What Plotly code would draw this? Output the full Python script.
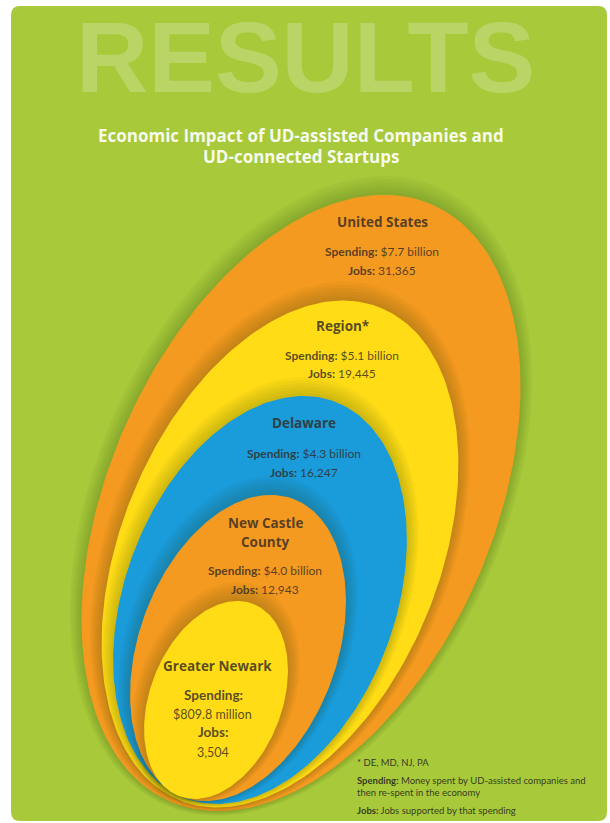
import numpy as np
import plotly.graph_objects as go

W, H = 610, 823

# ---------------- data ----------------
regions = ["United States", "Region*", "Delaware", "New Castle<br>County", "Greater Newark"]
spending_billion = [7.7, 5.1, 4.3, 4.0, 0.8098]
jobs = [31365, 19445, 16247, 12943, 3504]
footnotes = ["* DE, MD, NJ, PA",
             "<b>Spending:</b> Money spent by UD-assisted companies and<br>then re-spent in the economy",
             "<b>Jobs:</b> Jobs supported by that spending"]
title_lines = ["Economic Impact of UD-assisted Companies and", "UD-connected Startups"]
watermark = "RESULTS"

# ---------------- styling / layout ----------------
fills = ["#F49A20", "#FFDC16", "#1A9BDA", "#F49A20", "#FFDC16"]
green = "#A7C93A"
# ellipse geometry in pixel space: centre x, centre y, semi-major, semi-minor, tilt (deg)
geom = [
    (301, 503, 326, 192, 23.8),
    (280, 554, 266, 159, 22.3),
    (260, 600, 212, 135, 20.7),
    (238, 648, 159, 99, 20.2),
    (216, 700, 103, 66, 21.2),
]
# label anchors: centre x, name y, spending y, jobs y
label_pos = [
    (382, 222, 251, 270),
    (342, 326, 355, 373),
    (304, 423, 453, 472),
    (265, 532, 570, 589),
    (217, 666, 695, 732),
]


def ellipse_xy(cx, cy, a, b, phi_deg, grow=0.0, dy=0.0, n=260):
    phi = np.radians(phi_deg)
    t = np.linspace(0, 2 * np.pi, n)
    ux, uy = np.sin(phi), -np.cos(phi)
    vx, vy = np.cos(phi), np.sin(phi)
    A, B = a + grow, b + grow
    x = cx + A * np.cos(t) * ux + B * np.sin(t) * vx
    y = cy + dy + A * np.cos(t) * uy + B * np.sin(t) * vy
    return x, y


fig = go.Figure()

for (cx, cy, a, b, phi), col in zip(geom, fills):
    for g in (12, 10, 8, 6, 4, 2):
        sx, sy = ellipse_xy(cx, cy, a, b, phi, grow=g, dy=-g * 0.6)
        fig.add_trace(go.Scatter(x=sx, y=sy, mode="lines", fill="toself",
                                 fillcolor="rgba(30,45,0,0.035)", line=dict(width=0),
                                 hoverinfo="skip", showlegend=False))
    ex, ey = ellipse_xy(cx, cy, a, b, phi)
    fig.add_trace(go.Scatter(x=ex, y=ey, mode="lines", fill="toself",
                             fillcolor=col, line=dict(width=0),
                             hoverinfo="skip", showlegend=False))

txt_col = "rgba(52,42,36,0.82)"
FONT = "Lato, 'Open Sans', sans-serif"
HEAD = "'Open Sans', Lato, sans-serif"
ann = []


def add(text, x, y, size, color=txt_col, xanchor="center", align="center", family=FONT):
    ann.append(dict(text=text, x=x, y=y, xref="x", yref="y", showarrow=False,
                    xanchor=xanchor, yanchor="middle", align=align,
                    font=dict(family=family, size=size, color=color)))


def fmt_spend(v):
    return f"${v:.1f} billion" if v >= 1 else f"${v * 1000:.1f} million"


for i, (name, sp, jb) in enumerate(zip(regions, spending_billion, jobs)):
    x, yn, ys, yj = label_pos[i]
    if "<br>" in name:
        parts = name.split("<br>")
        add(f"<b>{parts[0]}</b>", x, yn - 9, 13.5, family=HEAD)
        add(f"<b>{parts[1]}</b>", x, yn + 10, 13.5, family=HEAD)
    else:
        add(f"<b>{name}</b>", x, yn, 13.5 if i < 4 else 13.5, family=HEAD)
    if i < 4:
        add(f"<b>Spending:</b> {fmt_spend(sp)}", x, ys, 12)
        add(f"<b>Jobs:</b> {jb:,}", x, yj, 12)
    else:
        add("<b>Spending:</b>", x - 4, ys, 13.5)
        add(fmt_spend(sp), x - 5, ys + 19, 12.5)
        add("<b>Jobs:</b>", x - 4, yj, 13.5)
        add(f"{jb:,}", x - 4, yj + 20, 12.5)

# watermark & title
add(f"<b>{watermark}</b>", 305, 57, 100, color="rgba(255,255,255,0.22)",
    family="'Liberation Sans', Arial, sans-serif")
add(f"<b>{title_lines[0]}</b>", 301, 135, 17, color="rgba(255,255,255,0.93)", family=HEAD)
add(f"<b>{title_lines[1]}</b>", 301, 156, 17, color="rgba(255,255,255,0.93)", family=HEAD)

# footnotes
fcol = "rgba(40,40,30,0.9)"
add(footnotes[0], 355, 762, 9.5, xanchor="left", align="left", color=fcol)
add(footnotes[1], 355, 786, 9.5, xanchor="left", align="left", color=fcol)
add(footnotes[2], 355, 810, 9.5, xanchor="left", align="left", color=fcol)

# green rounded panel
x0, y0, x1, y1, r = 11, 6, 607, 821, 9
panel = (f"M {x0+r},{y0} L {x1-r},{y0} Q {x1},{y0} {x1},{y0+r} L {x1},{y1-r} "
         f"Q {x1},{y1} {x1-r},{y1} L {x0+r},{y1} Q {x0},{y1} {x0},{y1-r} "
         f"L {x0},{y0+r} Q {x0},{y0} {x0+r},{y0} Z")

fig.update_layout(
    width=W, height=H, margin=dict(l=0, r=0, t=0, b=0),
    paper_bgcolor="white", plot_bgcolor="white",
    xaxis=dict(range=[0, W], visible=False, fixedrange=True),
    yaxis=dict(range=[H, 0], visible=False, fixedrange=True),
    shapes=[dict(type="path", path=panel, xref="x", yref="y",
                 fillcolor=green, line=dict(width=0), layer="below")],
    annotations=ann, showlegend=False,
)

fig.write_html("out.html")
